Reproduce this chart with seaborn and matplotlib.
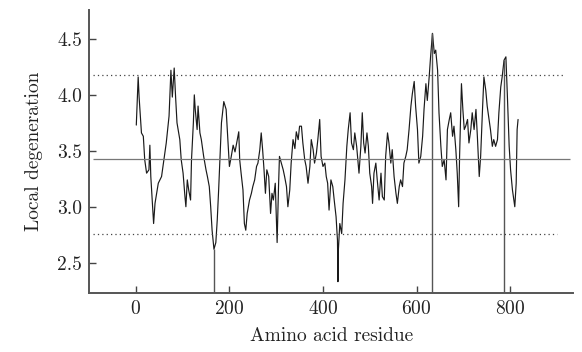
# Local degeneration profile along the protein sequence

import numpy as np
import pandas as pd
import matplotlib
matplotlib.use("Agg")
import matplotlib.pyplot as plt
import seaborn as sns

# Data
residue = [1, 5, 7, 12, 16, 19, 23, 28, 30, 32, 36, 38, 41, 48, 55, 58, 62, 65, 71, 75,
           78, 82, 85, 88, 94, 97, 101, 105, 107, 110, 113, 117, 119, 123, 125, 127, 131, 133,
           137, 140, 145, 150, 153, 157, 160, 163, 167, 171, 174, 177, 180, 183, 188, 193, 195,
           198, 200, 204, 208, 212, 217, 220, 222, 225, 229, 232, 235, 238, 243, 247, 250, 254,
           258, 261, 265, 268, 271, 274, 277, 280, 284, 288, 291, 294, 298, 302, 305, 307, 311,
           315, 318, 322, 325, 329, 332, 336, 340, 343, 347, 350, 354, 357, 361, 364, 368, 372,
           375, 379, 382, 386, 389, 393, 396, 400, 404, 407, 410, 413, 417, 421, 424, 428, 431,
           432, 433, 436, 440, 443, 447, 451, 454, 458, 461, 465, 468, 472, 475, 477, 481, 484,
           487, 490, 494, 497, 500, 504, 506, 509, 513, 516, 520, 524, 527, 531, 534, 538, 541,
           545, 548, 552, 556, 559, 563, 566, 570, 573, 577, 580, 584, 588, 591, 595, 598, 602,
           605, 609, 613, 616, 620, 623, 627, 630, 634, 638, 641, 645, 648, 652, 655, 659, 663,
           666, 670, 673, 677, 680, 684, 687, 690, 692, 696, 699, 702, 705, 709, 712, 716, 719,
           723, 727, 730, 734, 737, 741, 744, 748, 751, 755, 758, 762, 765, 769, 773, 776, 780,
           783, 787, 791, 794, 798, 801, 805, 808, 810, 813, 815, 817]
degeneration = [3.73, 4.16, 3.98, 3.66, 3.63, 3.42, 3.30, 3.33, 3.55, 3.27, 3.00, 2.85, 3.03,
                3.21, 3.27, 3.36, 3.48, 3.57, 3.81, 4.22, 3.98, 4.24, 3.98, 3.75, 3.60, 3.42,
                3.30, 3.09, 3.00, 3.24, 3.15, 3.06, 3.42, 3.75, 4.00, 3.87, 3.69, 3.90, 3.66,
                3.60, 3.45, 3.33, 3.27, 3.18, 3.00, 2.79, 2.62, 2.68, 2.88, 3.15, 3.45, 3.75,
                3.94, 3.87, 3.72, 3.51, 3.36, 3.45, 3.55, 3.49, 3.60, 3.67, 3.42, 3.30, 3.15,
                2.85, 2.79, 2.94, 3.06, 3.12, 3.18, 3.24, 3.36, 3.39, 3.51, 3.66, 3.51, 3.33,
                3.12, 3.33, 3.27, 2.94, 3.12, 3.06, 3.21, 2.68, 3.18, 3.45, 3.39, 3.33, 3.27,
                3.18, 3.00, 3.15, 3.39, 3.60, 3.52, 3.67, 3.60, 3.72, 3.72, 3.57, 3.42, 3.36,
                3.21, 3.36, 3.60, 3.51, 3.39, 3.48, 3.60, 3.78, 3.45, 3.36, 3.39, 3.27, 3.21,
                2.97, 3.24, 3.18, 3.06, 2.91, 2.70, 2.33, 2.62, 2.85, 2.76, 3.03, 3.24, 3.54,
                3.69, 3.84, 3.57, 3.51, 3.66, 3.54, 3.39, 3.30, 3.54, 3.84, 3.57, 3.48, 3.66,
                3.54, 3.30, 3.18, 3.03, 3.30, 3.39, 3.24, 3.06, 3.30, 3.09, 3.06, 3.45, 3.66,
                3.57, 3.39, 3.51, 3.27, 3.12, 3.03, 3.18, 3.24, 3.18, 3.39, 3.45, 3.51, 3.69,
                3.90, 4.01, 4.12, 3.90, 3.69, 3.39, 3.45, 3.63, 3.87, 4.10, 3.95, 4.16, 4.34,
                4.55, 4.37, 4.40, 4.22, 3.84, 3.54, 3.36, 3.42, 3.24, 3.69, 3.78, 3.84, 3.63,
                3.72, 3.51, 3.30, 3.00, 3.45, 4.10, 3.87, 3.69, 3.72, 3.78, 3.57, 3.69, 3.84,
                3.69, 3.87, 3.63, 3.27, 3.45, 3.87, 4.16, 4.04, 3.90, 3.78, 3.69, 3.54, 3.60,
                3.54, 3.60, 3.84, 4.07, 4.16, 4.31, 4.34, 4.01, 3.54, 3.33, 3.15, 3.06, 3.00,
                3.21, 3.69, 3.78]

# reference levels (mean and limits)
upper_level = 4.18
mean_level = 3.43
lower_level = 2.76

# residues where a drop line goes down to the axis
drop_residues = [167, 634, 787]

df = pd.DataFrame({"Residue": residue, "Degeneration": degeneration})

sns.set_style("ticks")
plt.rcParams["font.family"] = ["cmr10", "DejaVu Serif"]
plt.rcParams["axes.formatter.use_mathtext"] = True

fig = plt.figure(figsize=(5.82, 3.52), dpi=100)
ax = fig.add_axes([0.153, 0.168, 0.832, 0.804])

sns.lineplot(data=df, x="Residue", y="Degeneration", ax=ax, color="#1a1a1a",
             linewidth=0.85, estimator=None)

ymin = 2.23
for r in drop_residues:
    top = df.loc[df["Residue"] == r, "Degeneration"].iloc[0]
    ax.vlines(r, ymin, top, color="#555555", linewidth=1.0)

ax.hlines(upper_level, -92, 915, color="#444444", linewidth=0.9, linestyles=(0, (1, 2.5)))
ax.hlines(mean_level, -92, 928, color="#777777", linewidth=0.9)
ax.hlines(lower_level, -92, 900, color="#444444", linewidth=0.9, linestyles=(0, (1, 2.5)))

ax.set_xlim(-100, 935)
ax.set_ylim(ymin, 4.76)
ax.set_xticks([0, 200, 400, 600, 800])
ax.set_yticks([2.5, 3.0, 3.5, 4.0, 4.5])
ax.set_yticklabels(["2.5", "3.0", "3.5", "4.0", "4.5"])
ax.tick_params(direction="in", length=5, width=1, colors="#444444", labelcolor="#222222",
               labelsize=14, pad=5)
for side in ["left", "bottom"]:
    ax.spines[side].set_color("#555555")
    ax.spines[side].set_linewidth(1.4)
sns.despine(ax=ax)

ax.set_xlabel("Amino acid residue", fontsize=14, color="#222222", labelpad=7)
ax.set_ylabel("Local degeneration", fontsize=14, color="#222222", labelpad=10)

fig.savefig("out.png", dpi=100)
plt.close()
